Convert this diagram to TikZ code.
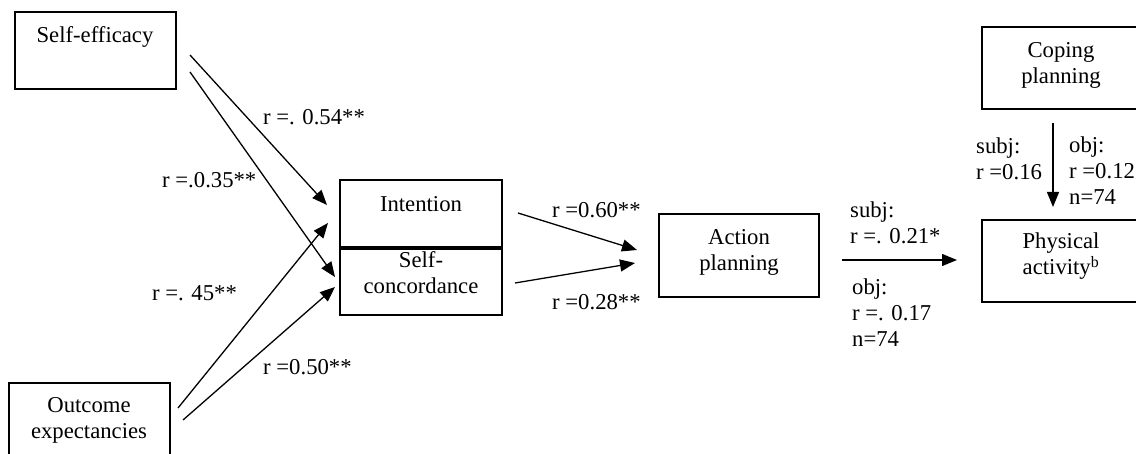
\documentclass[tikz,border=0pt]{standalone}
\usepackage{fontspec}
\setmainfont{Liberation Serif}
\usetikzlibrary{arrows.meta}
\begin{document}
\begin{tikzpicture}[x=1pt,y=-1pt,
  box/.style={draw,line width=2pt,inner sep=0pt},
  txt/.style={font=\fontsize{22.7}{26}\selectfont,inner sep=0pt,align=center},
  lbl/.style={font=\fontsize{22.7}{26}\selectfont,inner sep=0pt,align=left,anchor=west},
  con/.style={line width=1.3pt,-{Triangle[length=15pt,width=12pt]}}]
\clip (0,0) rectangle (1136,454);
\fill[white] (0,0) rectangle (1136,454);
% boxes
\node[box,minimum width=161pt,minimum height=77pt] (se) at (95,50.5) {};
\node[box,minimum width=161pt,minimum height=100pt] (oe) at (89.5,433) {};
\node[box,minimum width=162pt,minimum height=67pt] (int) at (421,213.5) {};
\node[box,minimum width=162pt,minimum height=68pt] (sc) at (421,281) {};
\draw[line width=4pt] (int.south west) -- (int.south east);
\node[box,minimum width=160pt,minimum height=83pt] (ap) at (739,255.5) {};
\node[box,minimum width=168pt,minimum height=82pt] (cp) at (1066,68) {};
\node[box,minimum width=168pt,minimum height=82pt] (pa) at (1066,261) {};
% box texts
\node[txt] (setx) at (95,37) {Self-efficacy};
\node[txt] (oetx) at (89,420) {Outcome\\expectancies};
\node[txt] (inttx) at (421,204) {Intention};
\node[txt] (sctx) at (421,273) {Self-\\concordance};
\node[txt] (aptx) at (739,252) {Action\\planning};
\node[txt] (cptx) at (1061,65) {Coping\\planning};
\node[txt] (patx) at (1061,256.5) {Physical\\activity\textsuperscript{b}};
% connector end points
\coordinate (se1) at (190,55);
\coordinate (se2) at (190,72);
\coordinate (oe1) at (178,408);
\coordinate (oe2) at (183,420);
\coordinate (int1) at (327,205);
\coordinate (int2) at (328,223);
\coordinate (sc1) at (335,277);
\coordinate (sc2) at (335,287);
\coordinate (into) at (518,213);
\coordinate (sco) at (515,283);
\coordinate (ap1) at (637,250);
\coordinate (ap2) at (635,263);
\coordinate (apo) at (842,260);
\coordinate (pai) at (957,260);
\coordinate (cpo) at (1053,123);
\coordinate (pat) at (1053,207);
% connectors
\draw[con] (se1) -- (int1);
\draw[con] (se2) -- (sc1);
\draw[con] (oe1) -- (int2);
\draw[con] (oe2) -- (sc2);
\draw[con] (into) -- (ap1);
\draw[con] (sco) -- (ap2);
\draw[con] (apo) -- (pai);
\draw[con] (cpo) -- (pat);
% labels
\node[lbl] (l1) at (263,117) {r =. 0.54**};
\node[lbl] (l2) at (162,180) {r =.0.35**};
\node[lbl] (l3) at (152,293) {r =. 45**};
\node[lbl] (l4) at (263,367) {r =0.50**};
\node[lbl] (l5) at (552,210) {r =0.60**};
\node[lbl] (l6) at (552,302) {r =0.28**};
\node[lbl] (l7) at (850,222.5) {subj:\\r =. 0.21*};
\node[lbl] (l8) at (852,313) {obj:\\r =. 0.17\\n=74};
\node[lbl] (l9) at (976,158.5) {subj:\\r =0.16};
\node[lbl] (l10) at (1069,171) {obj:\\r =0.12\\n=74};
\end{tikzpicture}
\end{document}
